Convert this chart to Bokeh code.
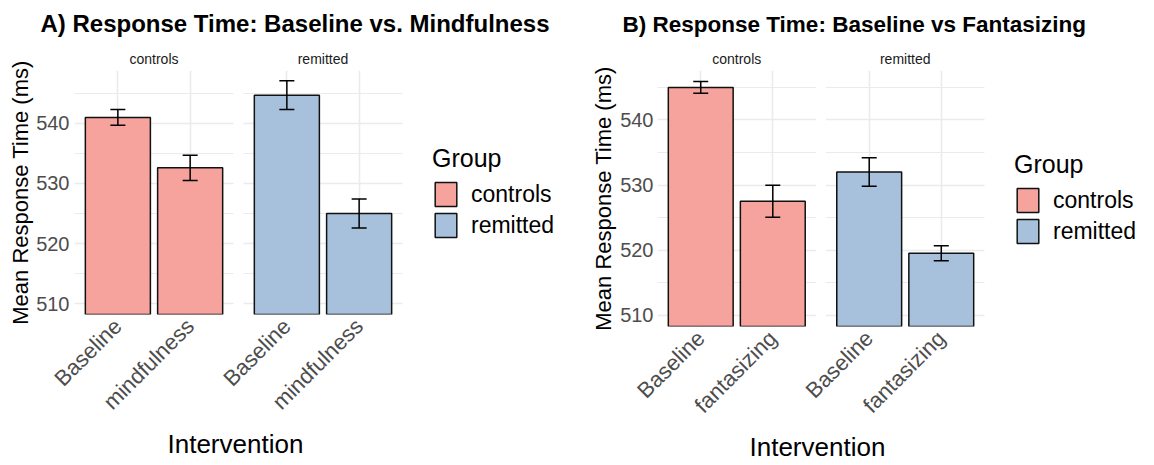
import math
from bokeh.plotting import figure
from bokeh.models import (ColumnDataSource, Range1d, FixedTicker, LinearAxis, Title,
                          Whisker, TeeHead, Legend, LegendItem)
from bokeh.layouts import row
from bokeh.embed import file_html
from bokeh.resources import INLINE

# ---------------- data ----------------
groups = ["controls", "remitted"]
group_colors = ["#F6A39E", "#A7C1DC"]

a_interventions = ["Baseline", "mindfulness"]
a_controls_mean = [541.0, 532.6]
a_controls_se = [1.3, 2.1]
a_remitted_mean = [544.7, 525.0]
a_remitted_se = [2.4, 2.4]

b_interventions = ["Baseline", "fantasizing"]
b_controls_mean = [545.0, 527.5]
b_controls_se = [0.9, 2.45]
b_remitted_mean = [532.0, 519.5]
b_remitted_se = [2.2, 1.15]

y_ticks = [510, 520, 530, 540]
y_minor = [515, 525, 535, 545]

FONT = "Liberation Sans"
FACET_PAD = 0.6     # ggplot discrete expansion inside each facet
FACET_GAP = 0.138   # white gap between facets (category units)


def facet_positions(interventions):
    """Category slots of the two facets on one numeric axis."""
    centers, group_centers, gaps = [], [], []
    start = 0.0
    for gi, g in enumerate(groups):
        lo = start
        for ii in range(len(interventions)):
            centers.append(round(lo + FACET_PAD + ii, 6))
        hi = lo + 2 * FACET_PAD + len(interventions) - 1
        group_centers.append(round((lo + hi) / 2.0, 6))
        if gi < len(groups) - 1:
            gaps.append((hi, hi + FACET_GAP))
        start = hi + FACET_GAP
    return centers, group_centers, gaps, 0.0, start - FACET_GAP


def make_panel(tag, title, interventions, means, ses, left, top, bottom,
               fw, legend_w, fh, y0, y1, title_size, title_offset,
               tick_standoff, ylab_standoff, xlab_offset, legend_y):
    centers, gcenters, gaps, x0, x1 = facet_positions(interventions)
    # the frame also holds the legend area to the right of the facets
    x_end = x1 + (x1 - x0) * legend_w / fw
    p = figure(frame_width=fw + legend_w, frame_height=fh,
               x_range=Range1d(x0, x_end), y_range=Range1d(y0, y1),
               output_backend="svg", toolbar_location=None,
               min_border_left=left, min_border_top=top,
               min_border_right=0, min_border_bottom=bottom)
    p.outline_line_color = None
    p.background_fill_color = "white"
    p.border_fill_color = "white"

    # title
    p.title.text = tag + "  " + title
    p.title.text_font = FONT
    p.title.text_font_size = title_size
    p.title.text_font_style = "bold"
    p.title.text_color = "black"
    p.title.align = "left"
    p.title.vertical_align = "top"
    p.title.offset = title_offset
    p.title.standoff = 18

    # grids
    p.ygrid.grid_line_color = "#EBEBEB"
    p.ygrid.grid_line_width = 1.6
    p.ygrid.minor_grid_line_color = "#EBEBEB"
    p.ygrid.minor_grid_line_width = 1.0
    p.xgrid.grid_line_color = "#EBEBEB"
    p.xgrid.grid_line_width = 1.6

    # white gap between the facets and white legend area
    blanks = gaps + [(x1, x_end)]
    gsrc = ColumnDataSource(dict(l=[g[0] for g in blanks], r=[g[1] for g in blanks],
                                 b=[y0] * len(blanks), t=[y1] * len(blanks)))
    p.quad(left="l", right="r", bottom="b", top="t", source=gsrc,
           fill_color="white", line_color=None)

    # bars and error bars
    renderers = []
    n = len(interventions)
    for gi, g in enumerate(groups):
        m = means[gi]
        s = ses[gi]
        src = ColumnDataSource(dict(
            x=centers[gi * n:(gi + 1) * n],
            intervention=interventions,
            top=m,
            lower=[a - b for a, b in zip(m, s)],
            upper=[a + b for a, b in zip(m, s)],
        ))
        r = p.vbar(x="x", top="top", bottom=y0 - 5, width=0.9, source=src,
                   fill_color=group_colors[gi], line_color="#111111", line_width=1.5)
        renderers.append(r)
        w = Whisker(base="x", upper="upper", lower="lower", source=src,
                    line_color="black", line_width=1.5, level="annotation",
                    upper_head=TeeHead(size=15, line_width=1.5, line_color="black"),
                    lower_head=TeeHead(size=15, line_width=1.5, line_color="black"))
        p.add_layout(w)

    # y axis
    ya = p.yaxis[0]
    ya.ticker = FixedTicker(ticks=y_ticks, minor_ticks=y_minor)
    ya.axis_line_color = None
    ya.major_tick_line_color = None
    ya.minor_tick_line_color = None
    ya.major_tick_out = 0
    ya.minor_tick_out = 0
    ya.major_label_standoff = tick_standoff
    ya.major_label_text_font = FONT
    ya.major_label_text_font_size = "20px"
    ya.major_label_text_color = "#4D4D4D"
    ya.axis_label = "Mean Response Time (ms)"
    ya.axis_label_text_font = FONT
    ya.axis_label_text_font_size = "22px"
    ya.axis_label_text_font_style = "normal"
    ya.axis_label_text_color = "black"
    ya.axis_label_standoff = ylab_standoff

    # x axis (bottom): intervention labels
    xa = p.xaxis[0]
    xa.ticker = FixedTicker(ticks=centers, minor_ticks=[])
    xa.major_label_overrides = {c: lab for c, lab in zip(centers, interventions * len(groups))}
    xa.axis_line_color = None
    xa.major_tick_line_color = None
    xa.minor_tick_line_color = None
    xa.major_tick_out = 0
    xa.minor_tick_out = 0
    xa.major_label_orientation = math.pi / 4
    xa.major_label_standoff = 8
    xa.major_label_text_font = FONT
    xa.major_label_text_font_size = "22px"
    xa.major_label_text_color = "#4D4D4D"

    # x axis title, centred under the facets
    xt = Title(text="Intervention", align="left", offset=xlab_offset, standoff=0,
               text_font=FONT, text_font_size="26px", text_font_style="normal",
               text_color="black")
    p.add_layout(xt, "below")

    # strip labels (top axis)
    ta = LinearAxis(ticker=FixedTicker(ticks=gcenters, minor_ticks=[]),
                    major_label_overrides={c: g for c, g in zip(gcenters, groups)})
    ta.axis_line_color = None
    ta.major_tick_line_color = None
    ta.minor_tick_line_color = None
    ta.major_tick_out = 0
    ta.minor_tick_out = 0
    ta.major_label_standoff = 4
    ta.major_label_text_font = FONT
    ta.major_label_text_font_size = "14px"
    ta.major_label_text_color = "#1A1A1A"
    p.add_layout(ta, "above")

    # legend, in the blank area right of the facets
    items = [LegendItem(label=g, renderers=[renderers[gi]]) for gi, g in enumerate(groups)]
    lg = Legend(items=items, title="Group", location=(fw + 30, legend_y))
    lg.title_text_font = FONT
    lg.title_text_font_size = "25px"
    lg.title_text_font_style = "normal"
    lg.title_text_color = "black"
    lg.title_standoff = 6
    lg.label_text_font = FONT
    lg.label_text_font_size = "23px"
    lg.label_text_color = "black"
    lg.glyph_width = 27
    lg.glyph_height = 30
    lg.label_height = 30
    lg.label_standoff = 12
    lg.spacing = 1
    lg.padding = 0
    lg.margin = 0
    lg.border_line_color = None
    lg.background_fill_alpha = 0
    p.add_layout(lg)
    return p


pA = make_panel("A)", "Response Time: Baseline vs. Mindfulness", a_interventions,
                [a_controls_mean, a_remitted_mean], [a_controls_se, a_remitted_se],
                74, 70, 143, 328, 175, 244, 508.2, 548.8, "24px", -34, 5, 0, 93, 74)
pB = make_panel("B)", "Response Time: Baseline vs Fantasizing", b_interventions,
                [b_controls_mean, b_remitted_mean], [b_controls_se, b_remitted_se],
                80, 68, 133, 327, 154, 256, 508.26, 547.6, "22.5px", -35, 4, 1, 92, 80)

layout = row(pA, pB)
open("out.html", "w").write(file_html(layout, INLINE))
